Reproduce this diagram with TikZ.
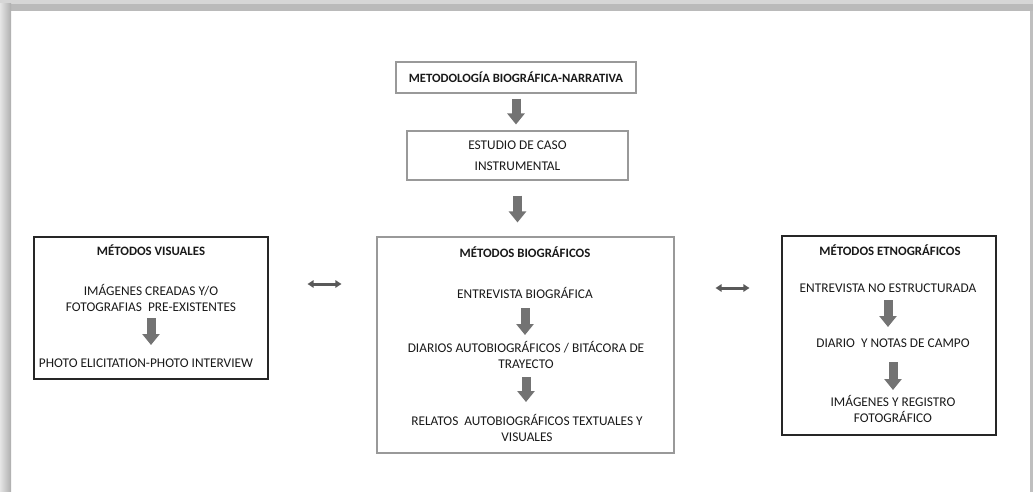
\documentclass[tikz,border=0pt]{standalone}
\usepackage{fontspec}
\setmainfont{Carlito}
\usetikzlibrary{arrows.meta}

\tikzset{
  framebox/.style={draw=black!85,line width=0.8pt},
  softbox/.style={draw=black!40,line width=0.8pt},
  txt/.style={font=\fontsize{10}{12}\selectfont,align=center,inner sep=0pt,text=black!90},
  ttl/.style={txt,font=\fontsize{9.6}{12}\selectfont\bfseries},
  blockarr/.style={line width=6.75pt,draw=black!55,-{Triangle[width=12.75pt,length=8.25pt]}},
  dblarr/.style={line width=2.25pt,draw=black!65,{Triangle[width=5.5pt,length=4.5pt]}-{Triangle[width=5.5pt,length=4.5pt]}}
}

\begin{document}
\begin{tikzpicture}[x=0.75pt,y=-0.75pt]
\useasboundingbox (0,0) rectangle (1033,492);
% page frame
\fill[black!16] (0,0) rectangle (1033,4);
\fill[black!27] (0,4) rectangle (1033,11);
\shade[left color=black!10,right color=black!32] (0,4) rectangle (11,492);
\fill[black!25] (1030,11) rectangle (1033,492);

% top of the chain
\node[softbox,txt,font=\fontsize{9.5}{12}\selectfont\bfseries,minimum width=180pt,minimum height=23.25pt] (metodo) at (516,77.5) {METODOLOGÍA BIOGRÁFICA-NARRATIVA};
\node[softbox,txt,minimum width=165.75pt,minimum height=36.75pt] (estudio) at (517.5,155.5) {ESTUDIO DE CASO\\[3.75pt]INSTRUMENTAL};

% the three boxes
\node[framebox,minimum width=175.5pt,minimum height=106.5pt] (visbox) at (151,308) {};
\node[softbox,minimum width=222.75pt,minimum height=162pt] (biobox) at (525.5,345) {};
\node[framebox,minimum width=160.5pt,minimum height=149.25pt] (etnobox) at (889,335.5) {};

% visuales
\node[ttl] (vt) at (151,250) {MÉTODOS VISUALES};
\node[txt] (v1) at (151,297.5) {IMÁGENES CREADAS Y/O\\FOTOGRAFIAS\ \ PRE-EXISTENTES};
\node[txt] (v2) at (146,363) {PHOTO ELICITATION-PHOTO INTERVIEW};

% biograficos
\node[ttl] (bt) at (525,252) {MÉTODOS BIOGRÁFICOS};
\node[txt] (b1) at (525,293) {ENTREVISTA BIOGRÁFICA};
\node[txt] (b2) at (526,354.5) {DIARIOS AUTOBIOGRÁFICOS / BITÁCORA DE\\TRAYECTO};
\node[txt] (b3) at (527,427.5) {RELATOS\ \ AUTOBIOGRÁFICOS TEXTUALES Y\\VISUALES};

% etnograficos
\node[ttl] (et) at (890,250) {MÉTODOS ETNOGRÁFICOS};
\node[txt] (e1) at (888,288) {ENTREVISTA NO ESTRUCTURADA};
\node[txt] (e2) at (893,343) {DIARIO\ \ Y NOTAS DE CAMPO};
\node[txt] (e3) at (893,409) {IMÁGENES Y REGISTRO\\FOTOGRÁFICO};

% block arrows
\draw[blockarr,shorten <=3.75pt,shorten >=4.5pt] (metodo.south) -- (metodo.south |- estudio.north);
\draw[blockarr,shorten <=11.25pt,shorten >=10.5pt] (estudio.south) -- (estudio.south |- biobox.north);
\draw[blockarr,shorten <=15.4pt,shorten >=13.5pt] (v1.center) -- (v1.center |- v2.center);
\draw[blockarr,shorten <=11.25pt,shorten >=14.6pt] (b1.center) -- (b1.center |- b2.center);
\draw[blockarr,shorten <=16.9pt,shorten >=19.1pt] (b2.center) -- (b2.center |- b3.center);
\draw[blockarr,shorten <=9pt,shorten >=12pt] (e1.center) -- (e1.center |- e2.center);
\draw[blockarr,shorten <=14.25pt,shorten >=14.25pt] (e2.center) -- (e2.center |- e3.center);

% links between the boxes
\draw[dblarr,shorten <=29.25pt,shorten >=26.25pt] (visbox.east |- 0,284) -- (biobox.west |- 0,284);
\draw[dblarr,shorten <=30.75pt,shorten >=24pt] (biobox.east |- 0,288) -- (etnobox.west |- 0,288);
\end{tikzpicture}
\end{document}
